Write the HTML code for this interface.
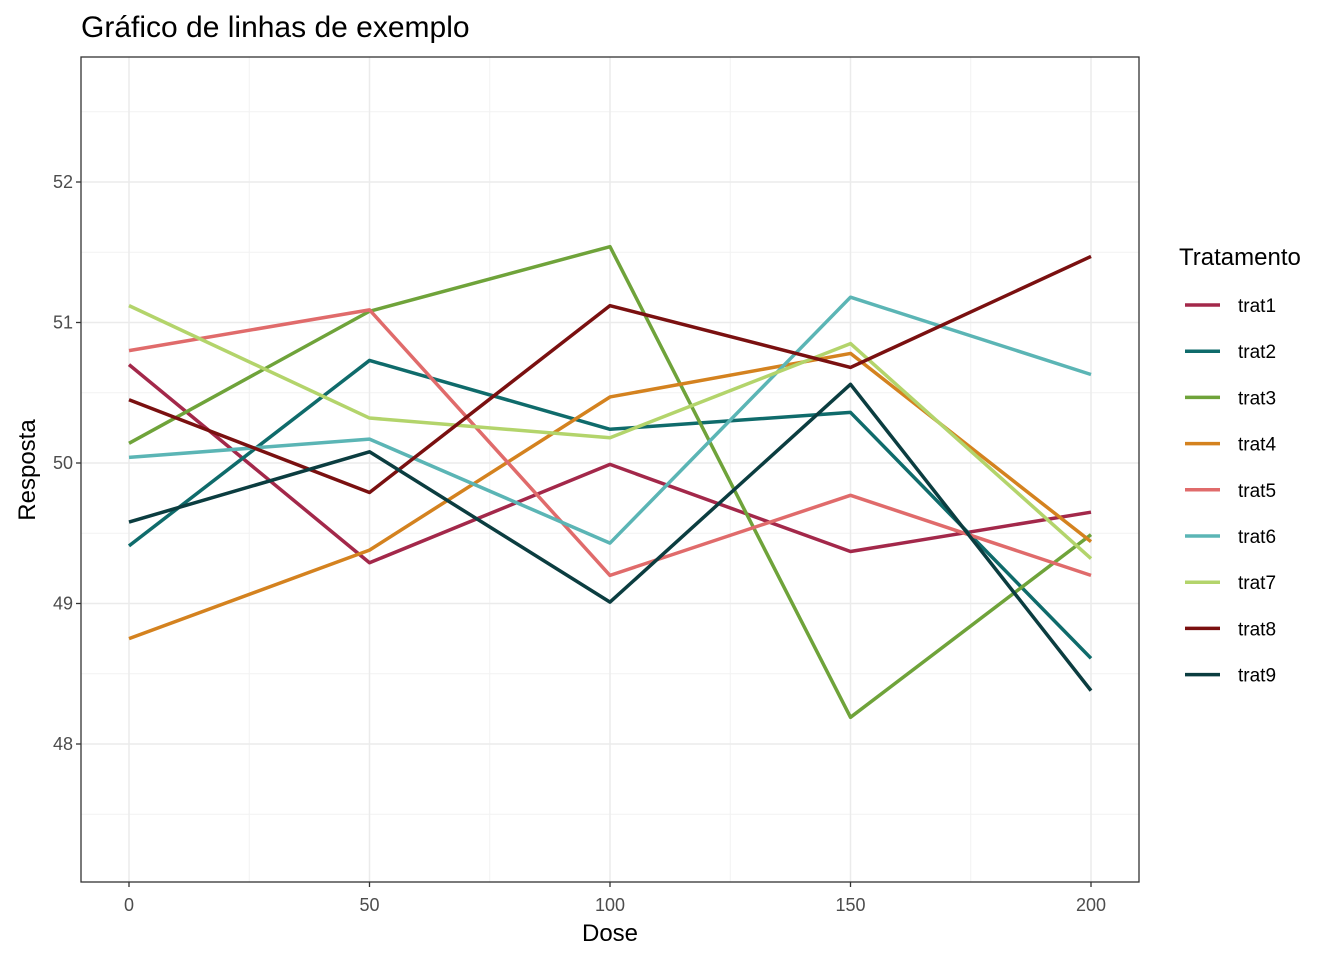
<!DOCTYPE html>
<html><head><meta charset="utf-8"><style>
body{margin:0;background:#fff;font-family:"Liberation Sans",sans-serif}
</style></head><body>
<svg id="chart" width="1344" height="960" xmlns="http://www.w3.org/2000/svg" font-family="Liberation Sans, sans-serif"></svg>
<script>
const doses=[0,50,100,150,200];
const seriesNames=["trat1","trat2","trat3","trat4","trat5","trat6","trat7","trat8","trat9"];
const trat1=[50.70,49.29,49.99,49.37,49.65];
const trat2=[49.41,50.73,50.24,50.36,48.61];
const trat3=[50.14,51.08,51.54,48.19,49.49];
const trat4=[48.75,49.38,50.47,50.78,49.44];
const trat5=[50.80,51.09,49.20,49.77,49.20];
const trat6=[50.04,50.17,49.43,51.18,50.63];
const trat7=[51.12,50.32,50.18,50.85,49.32];
const trat8=[50.45,49.79,51.12,50.68,51.47];
const trat9=[49.58,50.08,49.01,50.56,48.38];
const seriesValues=[trat1,trat2,trat3,trat4,trat5,trat6,trat7,trat8,trat9];
const colors=["#A3284A","#0F6B6B","#6FA33A","#D4821F","#E06B6B","#5BB5B5","#B3D46B","#7A1010","#0B3D40"];
const xTicks=[0,50,100,150,200];
const yTicks=[48,49,50,51,52];

const svg=document.getElementById('chart');
const NS="http://www.w3.org/2000/svg";
const L=81,R=1139,T=57,B=882;
const xs=v=>129+(v-0)*(1091-129)/200;
const ys=v=>463-(v-50)*140.5;
function mk(tag,attrs,parent){const e=document.createElementNS(NS,tag);for(const k in attrs)e.setAttribute(k,attrs[k]);(parent||svg).appendChild(e);return e;}

const grid=mk('g',{});


for(let i=0;i<xTicks.length-1;i++){const m=(xTicks[i]+xTicks[i+1])/2;mk('line',{x1:xs(m),x2:xs(m),y1:T,y2:B,stroke:'#f2f2f2','stroke-width':1},grid);}
for(let v=47.5;v<=52.5;v+=1){mk('line',{x1:L,x2:R,y1:ys(v),y2:ys(v),stroke:'#f2f2f2','stroke-width':1},grid);}
xTicks.forEach(v=>mk('line',{x1:xs(v),x2:xs(v),y1:T,y2:B,stroke:'#ebebeb','stroke-width':1.5},grid));
yTicks.forEach(v=>mk('line',{x1:L,x2:R,y1:ys(v),y2:ys(v),stroke:'#ebebeb','stroke-width':1.5},grid));

seriesValues.forEach((vals,i)=>{
  const p=mk('polyline',{points:vals.map((v,j)=>xs(doses[j])+','+ys(v)).join(' '),fill:'none',stroke:colors[i],'stroke-width':3.5,'stroke-linejoin':'round'});
  
  
});
const frame=mk('rect',{x:L,y:T,width:R-L,height:B-T,fill:'none',stroke:'#333','stroke-width':1.3});



xTicks.forEach(v=>{
  mk('line',{x1:xs(v),x2:xs(v),y1:B,y2:B+5,stroke:'#333','stroke-width':1.3});
  const t=mk('text',{x:xs(v),y:911,'text-anchor':'middle','font-size':18,fill:'#4d4d4d'});t.textContent=v;
  
  
});
yTicks.forEach(v=>{
  mk('line',{x1:L-5,x2:L,y1:ys(v),y2:ys(v),stroke:'#333','stroke-width':1.3});
  const t=mk('text',{x:L-8,y:ys(v)+6,'text-anchor':'end','font-size':18,fill:'#4d4d4d'});t.textContent=v;
  
  
});
let t=mk('text',{x:610,y:941,'text-anchor':'middle','font-size':24,fill:'#000'});t.textContent='Dose';


t=mk('text',{x:0,y:0,'text-anchor':'middle','font-size':24,fill:'#000',transform:'translate(35,470) rotate(-90)'});t.textContent='Resposta';


t=mk('text',{x:81,y:37,'font-size':30,fill:'#000'});t.textContent='Gráfico de linhas de exemplo';


t=mk('text',{x:1179,y:265,'font-size':24,fill:'#000'});t.textContent='Tratamento';


seriesNames.forEach((n,i)=>{
  const y=305+i*46.2;
  const g=mk('g',{});
  
  
  mk('line',{x1:1185,x2:1220,y1:y,y2:y,stroke:colors[i],'stroke-width':3.5},g);
  const tx=mk('text',{x:1238,y:y+7,'font-size':19,fill:'#000'},g);tx.textContent=n;
});
</script>
</body></html>
